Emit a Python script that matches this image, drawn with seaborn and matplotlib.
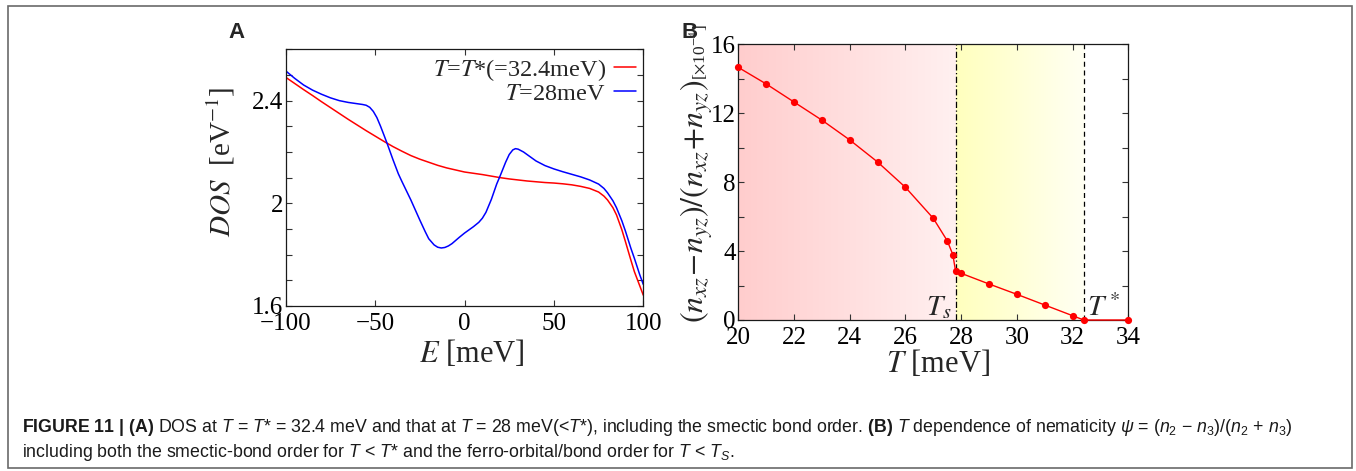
import numpy as np
import matplotlib
matplotlib.use("Agg")
import matplotlib.pyplot as plt
from matplotlib.patches import Rectangle
from matplotlib.colors import LinearSegmentedColormap
from matplotlib.ticker import FixedLocator, FixedFormatter, MultipleLocator
import seaborn as sns

# ---------------- Panel A: density of states ----------------
energy_tstar = [-100, -95, -90, -85, -80, -75, -70, -65, -60, -55, -50, -45, -40,
                -35, -30, -25, -20, -15, -10, -5, 0, 5, 10, 15, 20, 25, 30, 35, 40,
                45, 50, 55, 60, 65, 70, 75, 78, 80, 83, 85, 88, 90, 93, 95, 98, 100]
dos_tstar = [2.491, 2.467, 2.443, 2.420, 2.396, 2.373, 2.350, 2.327, 2.305, 2.283,
             2.262, 2.241, 2.221, 2.203, 2.186, 2.172, 2.160, 2.148, 2.138, 2.130,
             2.122, 2.117, 2.112, 2.106, 2.100, 2.095, 2.091, 2.087, 2.084, 2.081,
             2.079, 2.076, 2.072, 2.066, 2.058, 2.044, 2.028, 2.013, 1.983, 1.955,
             1.897, 1.851, 1.780, 1.734, 1.679, 1.642]

energy_t28 = [-100, -95, -90, -85, -80, -75, -70, -65, -60, -57, -55, -53, -51, -49,
              -47, -45, -43, -40, -37, -35, -30, -25, -22, -20, -17, -15, -13, -11,
              -9, -7, -5, -3, 0, 3, 5, 8, 10, 12, 15, 18, 20, 23, 25, 27, 28.5, 30,
              33, 35, 40, 45, 50, 55, 60, 65, 70, 75, 78, 80, 83, 85, 88, 90, 93,
              95, 98, 100]
dos_t28 = [2.516, 2.487, 2.461, 2.441, 2.425, 2.411, 2.400, 2.393, 2.388, 2.385,
           2.382, 2.374, 2.358, 2.334, 2.301, 2.265, 2.228, 2.170, 2.115, 2.085,
           2.013, 1.935, 1.890, 1.862, 1.838, 1.829, 1.826, 1.828, 1.834, 1.843,
           1.855, 1.867, 1.884, 1.899, 1.909, 1.926, 1.942, 1.965, 2.015, 2.075,
           2.108, 2.160, 2.190, 2.208, 2.213, 2.211, 2.200, 2.190, 2.165, 2.147,
           2.134, 2.123, 2.113, 2.103, 2.091, 2.075, 2.058, 2.041, 2.010, 1.983,
           1.932, 1.892, 1.826, 1.786, 1.722, 1.684]

label_tstar = r"$T$=$T$*(=32.4meV)"
label_t28 = r"$T$=28meV"
energy_ticks = [-100, -50, 0, 50, 100]
dos_ticks = [1.6, 2.0, 2.4]
dos_tick_labels = ["1.6", "2", "2.4"]

# ---------------- Panel B: nematicity vs temperature ----------------
temps = [20, 21, 22, 23, 24, 25, 26, 27, 27.5, 27.7, 27.8, 28.0, 29, 30, 31, 32,
         32.4, 34]
nematicity = [14.66, 13.7, 12.65, 11.6, 10.45, 9.17, 7.7, 5.9, 4.6, 3.8, 2.84,
              2.71, 2.09, 1.49, 0.87, 0.25, 0.0, 0.0]
T_s = 27.8
T_star = 32.4
temp_ticks = [20, 22, 24, 26, 28, 30, 32, 34]
nem_ticks = [0, 4, 8, 12, 16]

caption_1 = (r"$\mathbf{FIGURE\ 11\ |\ (A)}$ DOS at $T$ = $T$* = 32.4 meV and that at "
             r"$T$ = 28 meV(<$T$*), including the smectic bond order. $\mathbf{(B)}$ "
             r"$T$ dependence of nematicity $\psi$ = ($n_2$ − $n_3$)/($n_2$ + $n_3$)")
caption_2 = (r"including both the smectic-bond order for $T$ < $T$* and the "
             r"ferro-orbital/bond order for $T$ < $T_S$.")

# ---------------- styling ----------------
sns.set_theme(style="ticks")
plt.rcParams["font.family"] = ["Liberation Serif", "DejaVu Serif"]
plt.rcParams["mathtext.fontset"] = "stix"
plt.rcParams["mathtext.rm"] = "Liberation Sans"
plt.rcParams["mathtext.it"] = "Liberation Sans:italic"
plt.rcParams["mathtext.bf"] = "Liberation Sans:bold"
plt.rcParams["axes.edgecolor"] = "#1a1a1a"
plt.rcParams["axes.linewidth"] = 0.9

W, H = 1356, 471
fig = plt.figure(figsize=(W / 100, H / 100), dpi=100)
fig.patch.set_facecolor("white")


def px_axes(left, top, right, bottom):
    return fig.add_axes([left / W, 1 - bottom / H, (right - left) / W, (bottom - top) / H])


def style_ticks(ax, size):
    ax.tick_params(which="both", direction="in", top=True, right=True,
                   length=4, width=0.8, color="#333333", labelsize=size,
                   labelcolor="black")


# ---- Panel A ----
axA = px_axes(285.7, 49.3, 643.3, 306.0)
sns.lineplot(x=energy_tstar, y=dos_tstar, color="#ff0000", linewidth=1.1,
             label=label_tstar, ax=axA)
sns.lineplot(x=energy_t28, y=dos_t28, color="#0000ff", linewidth=1.1,
             label=label_t28, ax=axA)
axA.set_xlim(-100, 100)
axA.set_ylim(1.6, 2.6)
axA.xaxis.set_major_locator(FixedLocator(energy_ticks))
axA.yaxis.set_major_locator(FixedLocator(dos_ticks))
axA.yaxis.set_major_formatter(FixedFormatter(dos_tick_labels))
axA.yaxis.set_minor_locator(MultipleLocator(0.1))
style_ticks(axA, 18)
axA.tick_params(axis="y", pad=2)
axA.tick_params(axis="x", pad=5)
axA.set_xlabel(r"$E$ [meV]", fontsize=22)
axA.xaxis.set_label_coords(0.52, -0.125)
axA.set_ylabel(r"$DOS$  [eV$^{-1}$]", fontsize=21)
axA.yaxis.set_label_coords(-0.135, 0.562)
axA.legend(loc="upper right", markerfirst=False, frameon=False, fontsize=17.5,
           handlelength=0.9, handletextpad=0.35, borderpad=0.15,
           borderaxespad=0.15, labelspacing=0.0)

# ---- Panel B ----
axB = px_axes(738.3, 44.3, 1128.3, 320.0)
red_fade = LinearSegmentedColormap.from_list("red_fade", ["#ffcdcd", "#fff0f0"])
yellow_fade = LinearSegmentedColormap.from_list("yellow_fade", ["#ffffbe", "#fffff3"])
ramp = np.linspace(0, 1, 256)[None, :]
axB.imshow(ramp, cmap=red_fade, extent=[temps[0], T_s, nem_ticks[0], nem_ticks[-1]],
           aspect="auto", zorder=0, interpolation="bilinear")
axB.imshow(ramp, cmap=yellow_fade, extent=[T_s, T_star, nem_ticks[0], nem_ticks[-1]],
           aspect="auto", zorder=0, interpolation="bilinear")
axB.axvline(T_s, color="black", linewidth=0.9, linestyle=(0, (5, 2, 1, 2)), zorder=1)
axB.axvline(T_star, color="black", linewidth=0.9, linestyle=(0, (4, 3)), zorder=1)
sns.lineplot(x=temps, y=nematicity, color="#ff0000", linewidth=1.0, marker="o",
             markersize=5.2, markeredgewidth=0, clip_on=False, zorder=3, ax=axB)
axB.set_xlim(temps[0], 34)
axB.set_ylim(nem_ticks[0], nem_ticks[-1])
axB.xaxis.set_major_locator(FixedLocator(temp_ticks))
axB.yaxis.set_major_locator(FixedLocator(nem_ticks))
axB.yaxis.set_minor_locator(MultipleLocator(2))
style_ticks(axB, 18)
axB.tick_params(axis="y", pad=2)
axB.tick_params(axis="x", pad=5)
axB.set_xlabel(r"$T$ [meV]", fontsize=22)
axB.xaxis.set_label_coords(0.512, -0.1)
axB.set_ylabel("")
axB.text(T_s - 0.15, 0.28, r"$T_s$", ha="right", va="baseline", fontsize=21, zorder=4)
axB.text(T_star + 0.1, 0.23, r"$T^*$", ha="left", va="baseline", fontsize=21, zorder=4)

# y label of panel B: ratio in large type, scale factor in small type
fig.text(704 / W, 1 - 80 / H, r"$(n_{xz}\!-\!n_{yz})/(n_{xz}\!+\!n_{yz})$",
         rotation=90, rotation_mode="anchor", ha="right", va="baseline", fontsize=23)
fig.text(705 / W, 1 - 80 / H, r"[$\times$10$^{-4}$]",
         rotation=90, rotation_mode="anchor", ha="left", va="baseline", fontsize=12.5)

# panel letters
for letter, (x, y) in {"A": (236, 33), "B": (690, 32)}.items():
    fig.text(x / W, 1 - y / H, letter, ha="center", va="center", fontsize=16,
             fontweight="bold", family="Liberation Sans")

# caption
for text, base in ((caption_1, 432), (caption_2, 457)):
    t = fig.text(22 / W, 1 - base / H, text, ha="left", va="baseline",
                 fontsize=12.8, family="Liberation Sans", color="#1a1a1a")
    t.set_math_fontfamily("custom")

# outer frame
fig.patches.append(Rectangle((8 / W, 1 - 468 / H), (1352 - 8) / W, (468 - 6) / H,
                             transform=fig.transFigure, fill=False,
                             edgecolor="#6a6a6a", linewidth=1.2))

fig.savefig("out.png", dpi=100)
